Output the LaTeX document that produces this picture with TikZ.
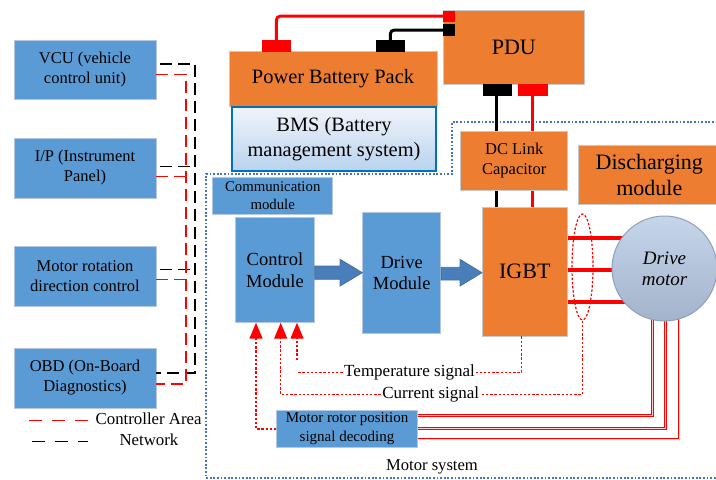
\documentclass[tikz,border=0pt]{standalone}
\usepackage{fontspec}
\setmainfont{Liberation Serif}
\usetikzlibrary{arrows.meta,shapes.geometric}
\definecolor{boxblue}{HTML}{5B9BD5}
\definecolor{boxedge}{HTML}{B4C7E7}
\definecolor{orng}{HTML}{ED7D31}
\definecolor{orngedge}{HTML}{C9C9C9}
\definecolor{bmsedge}{HTML}{0070C0}
\definecolor{bmstop}{HTML}{F0F4FA}
\definecolor{bmsbot}{HTML}{B9D3EE}
\definecolor{arrowblue}{HTML}{4A7EBB}
\definecolor{arrowedge}{HTML}{41719C}
\definecolor{dotblue}{HTML}{4472C4}
\definecolor{motortop}{HTML}{C5D5EA}
\definecolor{motorbot}{HTML}{A3B3CB}
\definecolor{motoredge}{HTML}{8EA0BA}
\newcommand\fsz[2]{\fontsize{#1}{#2}\selectfont}
\begin{document}
\begin{tikzpicture}[x=1pt,y=-1pt,
  bluebox/.style={draw=boxedge, fill=boxblue, line width=0.8pt, inner sep=0pt, align=center},
  orangebox/.style={draw=orngedge, fill=orng, line width=0.8pt, inner sep=0pt, align=center},
  termbox/.style={inner sep=0pt, minimum width=#1},
  cannet/.style={line width=1.5pt, dash pattern=on 12pt off 6pt},
  legdash/.style={line width=1.5pt, dash pattern=on 13pt off 10pt},
  wire/.style={line width=3pt, rounded corners=4pt},
  phase/.style={line width=4pt, red},
  sig/.style={red, line width=1.3pt, dash pattern=on 2.4pt off 1.8pt},
  sigarrow/.style={sig, -{Triangle[length=16pt,width=13pt]}},
  enc/.style={red, double=red!20, double distance=0.9pt, line width=0.8pt},
  blockarrow/.style={fill=arrowblue, draw=arrowedge, line width=0.8pt},
  sysborder/.style={dotblue, line width=1.5pt, dash pattern=on 1.8pt off 1.8pt},
  lbl/.style={inner sep=1.5pt}
]
\useasboundingbox (0,0) rectangle (716,480);
\clip (0,0) rectangle (716,480);

% motor system border
\draw[sysborder] (730,478) -- (206,478) -- (206,174) -- (452,174) -- (452,122) -- (730,122);
\node[lbl, font=\fsz{16.6}{20}] (msys) at (432,466.5) {Motor system};

% left boxes
\tikzset{leftbox/.style={bluebox, minimum width=142, font=\fsz{16.5}{20}}}
\node[leftbox, minimum height=59] (vcu) at (85,69.5) {VCU (vehicle\\control unit)};
\node[leftbox, minimum height=60] (ip) at (85,168) {I/P (Instrument\\Panel)};
\node[leftbox, minimum height=60] (mrd) at (85,276) {Motor rotation\\direction control};
\node[leftbox, minimum height=60] (obd) at (85,378) {OBD (On-Board\\Diagnostics)};

% CAN bus
\coordinate (b1) at (195,64);
\coordinate (b2) at (195,166.7);
\coordinate (b3) at (195,269.3);
\coordinate (b4) at (195,373);
\coordinate (r1) at (186,74.3);
\coordinate (r2) at (186,176.7);
\coordinate (r3) at (186,279.3);
\coordinate (r4) at (186,384);
\draw[cannet, black, dash phase=14pt] (vcu.east |- b1) -- (b1) -- (b4) -- (obd.east |- b4);
\draw[cannet, black, dash phase=14pt] (ip.east |- b2) -- (b2);
\draw[cannet, black, dash phase=14pt] (mrd.east |- b3) -- (b3);
\draw[cannet, red] (vcu.east |- r1) -- (r1) -- (r4) -- (obd.east |- r4);
\draw[cannet, red] (ip.east |- r2) -- (r2);
\draw[cannet, red] (mrd.east |- r3) -- (r3);

% legend
\coordinate (lr1) at (29,420.7);
\coordinate (lr2) at (88,420.7);
\coordinate (lb1) at (32,441.7);
\coordinate (lb2) at (88,441.7);
\draw[legdash, red] (lr1) -- (lr2);
\draw[legdash, black] (lb1) -- (lb2);
\node[lbl, anchor=west, font=\fsz{16.8}{20}] (leg1) at (94,419) {Controller Area};
\node[lbl, font=\fsz{16.8}{20}] (leg2) at (149,440) {Network};

% battery and BMS
\node[orangebox, minimum width=208, minimum height=54.3, font=\fsz{20.4}{24}] (pbp) at (333,79) {Power Battery Pack};
\node[draw=bmsedge, line width=2.5pt, top color=bmstop, bottom color=bmsbot, minimum width=204, minimum height=64, inner sep=0pt, align=center, font=\fsz{20.4}{25}] (bms) at (334,139) {BMS (Battery\\management system)};

% PDU
\node[orangebox, minimum width=141, minimum height=73.3, font=\fsz{22}{26}] (pdu) at (513.8,47.3) {PDU};

% terminals
\node[termbox=29.3, minimum height=11.7, fill=red] (pbpR) at (276.3,45.8) {};
\node[termbox=29.3, minimum height=11.7, fill=black] (pbpB) at (390.3,45.8) {};
\node[termbox=12, minimum height=11, fill=red] (pduR) at (449,16.2) {};
\node[termbox=12, minimum height=12, fill=black] (pduB) at (449,30) {};
\node[termbox=29.6, minimum height=12, fill=black] (pduBb) at (497.5,90) {};
\node[termbox=30, minimum height=12, fill=red] (pduRb) at (532.7,90) {};

\draw[wire, red] (pbpR.north) |- (pduR.west);
\draw[wire, black] (pbpB.north) |- (pduB.west);

% DC link, discharging, IGBT
\node[orangebox, minimum width=107, minimum height=59.7, font=\fsz{16.5}{20}] (dcl) at (514.2,160.8) {DC Link\\Capacitor};
\node[orangebox, minimum width=142, minimum height=59, font=\fsz{22}{26}] (dis) at (649.3,174.5) {Discharging\\module};
\node[orangebox, minimum width=85, minimum height=128.7, font=\fsz{22}{26}] (igbt) at (524.8,271.7) {IGBT};

\coordinate (xb) at (496.7,0);
\coordinate (xr) at (532.3,0);
\draw[line width=3pt, black] (pduBb.south -| xb) -- (dcl.north -| xb);
\draw[line width=3pt, red] (pduRb.south -| xr) -- (dcl.north -| xr);
\draw[line width=3pt, black] (dcl.south -| xb) -- (igbt.north -| xb);
\draw[line width=3pt, red] (dcl.south -| xr) -- (igbt.north -| xr);

% control side
\node[bluebox, minimum width=120, minimum height=37, font=\fsz{14.8}{17.6}] (comm) at (272.7,195.8) {Communication\\module};
\node[bluebox, minimum width=78.6, minimum height=104.6, font=\fsz{18.5}{21.5}] (ctrl) at (275,270) {Control\\Module};
\node[bluebox, minimum width=78, minimum height=120.6, font=\fsz{18.5}{21.5}] (drv) at (401.7,273) {Drive\\Module};
\node[bluebox, minimum width=140.6, minimum height=37.3, font=\fsz{15}{18.3}] (mrp) at (347,428.7) {Motor rotor position\\signal decoding};

% block arrows
\draw[blockarrow] (ctrl.east |- 0,266) -- (340,266) -- (340,259.3) -- (drv.west |- 0,272.7) -- (340,286) -- (340,279.3) -- (ctrl.east |- 0,279.3) -- cycle;
\draw[blockarrow] (drv.east |- 0,267.3) -- (460,267.3) -- (460,259.3) -- (igbt.west |- 0,272.7) -- (460,286) -- (460,280) -- (drv.east |- 0,280) -- cycle;

% encoder lines (drawn under the motor)
\coordinate (e1) at (652.3,415.7);
\coordinate (e2) at (665.7,428.3);
\coordinate (e3) at (679,439);
\draw[enc] (mrp.east |- e1) -- (e1) -- (652.3,300);
\draw[enc] (mrp.east |- e2) -- (e2) -- (665.7,300);
\draw[enc] (mrp.east |- e3) -- (e3) -- (679,300);

% motor
\coordinate (p1) at (600,238.3);
\coordinate (p2) at (600,270);
\coordinate (p3) at (600,301.7);
\draw[phase] (igbt.east |- p1) -- (640,238.3);
\draw[phase] (igbt.east |- p2) -- (640,270);
\draw[phase] (igbt.east |- p3) -- (640,301.7);
\node[circle, draw=motoredge, line width=1pt, top color=motortop, bottom color=motorbot, minimum size=105, inner sep=0pt, align=center, font=\fsz{19}{21}\itshape] (motor) at (664.5,268.5) {Drive\\motor};

\node[ellipse, draw=red, line width=1.2pt, dash pattern=on 2.4pt off 1.8pt, minimum width=21, minimum height=106, inner sep=0pt] (bundle) at (582.5,267) {};

% signals
\node[lbl, font=\fsz{17}{20}] (temp) at (409.5,372.3) {Temperature signal};
\node[lbl, font=\fsz{17}{20}] (cur) at (430.8,394.5) {Current signal};
\coordinate (tbend) at (521.7,372.3);
\coordinate (tleft) at (297,372.3);
\coordinate (tgap) at (297,360);
\coordinate (cbend) at (582.5,394.5);
\coordinate (cleft) at (280.7,394.5);
\coordinate (mleft) at (256,429);
\draw[sig] (tbend |- igbt.south) -- (tbend) -- (temp.east);
\draw[sig] (temp.west) -- (tleft);
\draw[sigarrow] (tgap) -- (tgap |- ctrl.south);
\draw[sig] (bundle.south) -- (cbend) -- (cur.east);
\draw[sigarrow] (cur.west) -- (cleft) -- (cleft |- ctrl.south);
\draw[sigarrow] (mrp.west |- mleft) -- (mleft) -- (mleft |- ctrl.south);
\end{tikzpicture}
\end{document}
